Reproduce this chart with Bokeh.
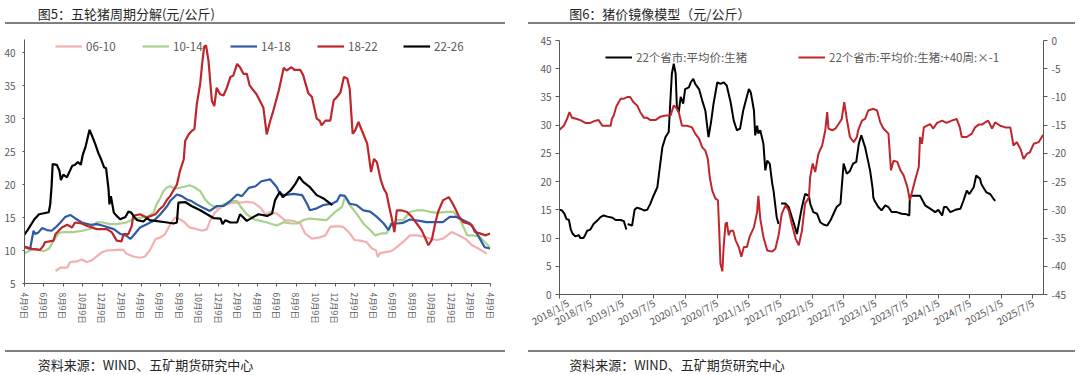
import datetime as dt
from bokeh.plotting import figure
from bokeh.models import Range1d, LinearAxis, FixedTicker, Legend, LegendItem, Div, Spacer
from bokeh.layouts import row, column
from bokeh.embed import file_html
from bokeh.resources import INLINE
from bokeh.core.properties import value

NAN = float("nan")
FONT = "Noto Sans CJK SC"
GRAY = "#595959"
TXT = "#262626"
RULE = "#7f7f7f"

# ---------------- Figure 5 data (months since first "4月9日") ----------------
month_ticks = list(range(0, 49, 2))
month_labels = ["4月9日", "6月9日", "8月9日", "10月9日", "12月9日", "2月9日"] * 4 + ["4月9日"]

s0610_x = [3.2, 3.7, 4.4, 4.7, 5.4, 5.9, 6.4, 6.9, 7.45, 8.0,
           8.5, 9.5, 10.2, 10.5, 11.2, 11.9, 12.4, 12.9, 13.5, 14.0,
           14.5, 15.0, 15.5, 16.0, 16.5, 17.0, 17.75, 18.3, 18.8, 19.1,
           19.6, 20.2, 20.8, 21.5, 22.2, 22.9, 23.6, 24.3, 24.8, 25.3,
           26.0, 26.8, 27.7, 28.4, 28.9, 29.6, 30.3, 31.0, 31.5, 32.2,
           32.8, 33.4, 34.0, 34.6, 35.2, 35.8, 36.2, 36.4, 36.6, 37.3,
           37.8, 38.35, 39.0, 39.7, 40.4, 41.1, 41.8, 42.5, 43.1, 44.0,
           44.7, 45.4, 46.1, 46.75, 47.3, 47.6]
s0610_y = [6.9, 7.4, 7.4, 8.25, 8.35, 8.65, 8.25, 8.5, 9.1, 9.75,
           10.0, 10.1, 10.1, 9.5, 9.1, 8.9, 9.1, 10.0, 11.75, 12.0,
           12.5, 14.0, 15.0, 14.75, 14.25, 13.5, 13.25, 13.0, 13.25, 14.5,
           15.75, 16.5, 17.0, 17.25, 17.25, 17.4, 17.25, 16.5, 15.5, 15.8,
           15.6, 14.6, 14.5, 14.1, 12.6, 11.8, 11.95, 12.3, 13.6, 13.7,
           13.6, 12.8, 11.6, 11.5, 11.3, 10.3, 10.05, 9.0, 9.6, 9.8,
           9.9, 10.5, 11.3, 12.3, 12.3, 12.1, 11.8, 11.6, 11.8, 12.8,
           12.3, 11.8, 10.8, 10.3, 9.8, 9.5]

s1014_x = [0, 0.58, 1.1, 1.96, 2.5, 3.0, 3.5, 4.0, 5.0, 6.0,
           6.8, 7.45, 8.1, 8.8, 9.5, 10.5, 11.2, 11.9, 12.6, 13.3,
           13.6, 14.0, 14.3, 14.7, 15.0, 15.35, 15.7, 16.2, 16.7, 17.0,
           17.5, 18.1, 18.6, 19.1, 19.8, 20.5, 21.2, 21.9, 22.2, 22.9,
           23.6, 24.3, 25.0, 25.3, 26.0, 26.7, 27.4, 28.1, 28.7, 29.4,
           30.45, 31.1, 32.0, 32.7, 33.0, 33.5, 34.2, 34.9, 35.6, 36.1,
           36.8, 37.3, 37.6, 38.35, 39.0, 39.7, 40.4, 41.1, 41.8, 42.5,
           43.5, 44.2, 44.9, 45.6, 46.2, 46.9, 47.4, 47.96]
s1014_y = [9.6, 10.0, 10.25, 9.9, 10.25, 11.5, 12.6, 12.8, 12.8, 13.0,
           13.3, 14.3, 14.25, 14.0, 14.0, 14.25, 14.75, 15.0, 15.1, 15.75,
           17.0, 18.0, 19.0, 19.6, 19.75, 19.5, 19.4, 19.6, 19.75, 19.9,
           19.6, 19.0, 17.75, 17.0, 16.5, 17.0, 17.5, 17.5, 16.75, 15.5,
           14.75, 14.5, 14.25, 14.1, 13.8, 14.3, 14.1, 14.1, 14.6, 14.85,
           14.7, 14.6, 15.85, 16.6, 18.1, 16.9, 15.6, 14.1, 13.1, 12.3,
           12.6, 12.6, 13.6, 14.6, 14.6, 15.85, 16.1, 16.1, 15.85, 15.7,
           15.85, 15.85, 14.6, 12.3, 12.3, 12.1, 11.3, 10.5]

s1418_x = [0, 0.58, 0.93, 1.1, 1.44, 1.8, 2.3, 2.8, 3.2, 3.7,
           4.2, 4.7, 5.2, 5.9, 6.8, 7.45, 8.1, 9.2, 9.9, 10.5,
           10.9, 11.2, 11.9, 12.6, 13.3, 14.0, 14.7, 15.0, 15.7, 16.2,
           16.7, 17.2, 17.75, 18.4, 19.1, 19.8, 20.5, 21.2, 21.9, 22.4,
           23.1, 23.8, 24.4, 25.3, 26.0, 26.3, 26.8, 27.7, 28.6, 29.1,
           29.4, 30.1, 30.8, 31.7, 32.2, 32.5, 33.0, 33.5, 34.2, 34.9,
           35.6, 36.3, 37.0, 37.5, 37.8, 38.35, 39.0, 39.7, 40.7, 41.4,
           43.1, 43.8, 44.5, 45.2, 45.9, 46.4, 46.9, 47.4, 47.96]
s1418_y = [10.5, 10.25, 13.0, 12.5, 12.75, 13.4, 13.1, 13.0, 13.5, 14.25,
           15.1, 15.4, 14.9, 14.25, 13.9, 14.0, 13.75, 13.25, 12.5, 12.25,
           11.75, 12.25, 13.5, 14.0, 14.5, 15.5, 16.75, 17.5, 18.5, 18.25,
           17.75, 17.5, 17.0, 16.5, 16.0, 16.75, 16.75, 17.5, 18.5, 18.25,
           19.5, 19.75, 20.5, 20.8, 19.6, 18.6, 18.4, 18.6, 18.4, 17.1,
           16.1, 16.4, 16.9, 17.1, 17.5, 18.4, 18.3, 17.1, 16.9, 16.1,
           15.9, 15.1, 14.1, 13.1, 14.1, 14.1, 14.2, 14.7, 14.5, 14.3,
           14.3, 15.1, 15.1, 14.6, 14.1, 13.1, 11.8, 10.5, 10.3]

s1822_x = [0, 0.76, 1.6, 1.96, 2.1, 2.98, 3.2, 3.85, 4.4, 4.9,
           5.2, 5.9, 6.4, 7.45, 8.5, 9.0, 9.5, 10.0, 10.2, 10.7,
           11.05, 11.2, 11.9, 12.6, 13.5, 13.9, 14.3, 14.7, 15.0, 15.3,
           15.7, 16.0, 16.4, 16.55, 16.9, 17.2, 17.5, 17.75, 18.1, 18.3,
           18.5, 18.7, 18.95, 19.3, 19.55, 19.8, 20.15, 20.5, 20.85, 21.2,
           21.5, 21.9, 22.2, 22.55, 22.9, 23.2, 23.9, 24.6, 24.95, 25.3,
           25.65, 26.2, 26.7, 27.0, 27.5, 27.8, 28.4, 28.7, 29.25, 29.6,
           30.1, 30.4, 30.6, 31.0, 31.5, 31.85, 32.2, 32.55, 32.9, 33.25,
           33.5, 33.8, 34.06, 34.4, 34.75, 35.3, 35.7, 36.0, 36.3, 36.7,
           37.0, 37.3, 37.5, 37.8, 38.1, 38.35, 38.8, 39.4, 39.9, 40.4,
           40.9, 41.3, 41.6, 41.95, 42.3, 42.6, 43.1, 43.7, 44.0, 44.35,
           44.7, 45.2, 45.7, 46.1, 46.4, 46.9, 47.5, 47.96]
s1822_y = [10.6, 10.25, 10.1, 10.75, 11.25, 11.5, 12.5, 13.5, 13.9, 13.5,
           14.25, 14.1, 13.75, 13.25, 13.25, 12.75, 11.5, 11.4, 12.5, 12.5,
           13.75, 15.25, 15.5, 15.0, 15.5, 16.25, 16.75, 17.75, 18.25, 19.0,
           20.0, 22.0, 23.8, 26.6, 27.6, 28.1, 28.4, 32.2, 35.3, 38.3,
           40.9, 41.1, 38.8, 32.7, 31.9, 34.7, 33.7, 33.5, 34.7, 36.3,
           36.5, 38.3, 37.8, 36.8, 36.8, 35.0, 33.7, 31.7, 27.6, 29.6,
           31.3, 34.3, 37.7, 37.3, 37.8, 37.4, 37.4, 36.6, 33.8, 33.3,
           30.0, 29.7, 29.0, 29.7, 29.7, 32.8, 33.3, 34.0, 36.3, 36.1,
           34.5, 27.7, 28.2, 29.5, 28.2, 26.2, 21.9, 23.9, 23.4, 20.7,
           19.4, 18.6, 17.1, 15.1, 12.8, 16.1, 16.1, 15.85, 15.1, 14.1,
           13.1, 11.8, 10.8, 11.6, 14.1, 15.85, 17.6, 18.1, 17.4, 16.4,
           15.3, 14.3, 14.1, 13.8, 12.8, 12.6, 12.3, 12.6]

s2226_x = [0, 0.5, 1.0, 1.5, 2.5, 2.65, 2.8, 2.9, 3.33, 3.6,
           3.75, 4.0, 4.37, 4.9, 5.2, 5.5, 5.8, 6.0, 6.3, 6.7,
           6.9, 7.3, 7.6, 7.9, 8.2, 8.4, 8.65, 8.75, 8.9, 9.2,
           9.5, 9.85, 10.4, 10.7, 11.0, 11.3, 11.6, 12.25, 12.6, 12.9,
           14.7, 15.35, 15.7, 15.85, 16.55, 17.2, 18.1, 18.8, 19.5, 20.2,
           20.4, 20.7, 21.2, 21.9, 22.2, 22.9, 23.6, 24.1, 25.0, 25.5,
           25.8, 26.3, 26.6, 27.4, 27.9, 28.3, 28.7, 29.4, 30.1, 30.8,
           31.7]
s2226_y = [12.4, 13.5, 14.7, 15.5, 15.8, 17.0, 20.0, 23.1, 23.0, 22.1,
           20.7, 21.5, 21.1, 22.8, 23.0, 23.4, 23.0, 24.5, 25.8, 28.3,
           27.6, 26.1, 24.8, 23.8, 22.6, 22.5, 19.4, 17.0, 18.25, 15.75,
           15.25, 14.75, 15.1, 15.9, 15.75, 15.1, 14.6, 14.4, 14.9, 14.6,
           14.25, 14.1, 14.25, 17.25, 17.35, 16.75, 16.1, 15.5, 14.9, 14.85,
           14.0, 14.6, 14.25, 14.25, 15.5, 14.5, 15.1, 15.5, 15.25, 15.6,
           17.6, 18.9, 18.1, 19.1, 20.1, 21.2, 20.4, 19.6, 18.4, 17.9,
           16.9]

# ---------------- Figure 6 data (decimal years) ----------------
date_labels = ["2018/1/5", "2018/7/5", "2019/1/5", "2019/7/5", "2020/1/5", "2020/7/5",
               "2021/1/5", "2021/7/5", "2022/1/5", "2022/7/5", "2023/1/5", "2023/7/5",
               "2024/1/5", "2024/7/5", "2025/1/5", "2025/7/5"]

price_t = [2018.01, 2018.05, 2018.09, 2018.12, 2018.16, 2018.19, 2018.22, 2018.26, 2018.32, 2018.34,
           2018.39, 2018.42, 2018.45, 2018.50, 2018.55, 2018.61, 2018.66, 2018.71, 2018.77, 2018.85,
           2018.90, 2018.98, 2019.03, 2019.07, 2019.08, 2019.09, 2019.16, 2019.20, 2019.24, 2019.29,
           2019.35, 2019.40, 2019.45, 2019.50, 2019.56, 2019.58, 2019.64, 2019.69, 2019.74, 2019.77,
           2019.79, 2019.82, 2019.85, 2019.87, 2019.90, 2019.93, 2019.97, 2020.00, 2020.06, 2020.09,
           2020.13, 2020.16, 2020.22, 2020.27, 2020.32, 2020.37, 2020.41, 2020.45, 2020.51, 2020.56,
           2020.61, 2020.66, 2020.72, 2020.77, 2020.82, 2020.87, 2020.92, 2020.95, 2021.01, 2021.04,
           2021.09, 2021.11, 2021.14, 2021.16, 2021.19, 2021.24, 2021.27, 2021.30, 2021.34, 2021.38,
           2021.40, 2021.45, 2021.48, 2021.50, 2021.52, 2021.59, 2021.64, 2021.69, 2021.75, 2021.77,
           2021.81, 2021.85, 2021.90, 2021.96, 2021.98, 2022.03, 2022.09, 2022.14, 2022.19, 2022.25,
           2022.30, 2022.35, 2022.40, 2022.46, 2022.48, 2022.51, 2022.56, 2022.61, 2022.66, 2022.71,
           2022.75, 2022.79, 2022.85, 2022.90, 2022.93, 2022.97, 2022.98, 2023.00, 2023.06, 2023.11,
           2023.17, 2023.22, 2023.27, 2023.35, 2023.43, 2023.51, 2023.55, 2023.56, 2023.72, 2023.80,
           2023.88, 2023.96, 2024.01, 2024.07, 2024.10, 2024.14, 2024.20, 2024.28, 2024.36, 2024.41,
           2024.46, 2024.50, 2024.57, 2024.61, 2024.67, 2024.69, 2024.72, 2024.77, 2024.83, 2024.88,
           2024.91]
price_v = [15.0, 14.9, 14.3, 13.4, 13.2, 11.5, 10.75, 10.3, 10.5, 10.0,
           10.0, 10.6, 11.3, 11.5, 12.5, 13.1, 13.7, 14.0, 13.8, 13.6,
           13.2, 13.2, 13.0, 11.5, NAN, 12.5, 12.2, 15.0, 15.4, 15.2,
           14.9, 15.0, 16.1, 17.5, 19.0, 20.8, 26.1, 27.9, 28.8, 35.0,
           39.1, 40.9, 39.1, 33.2, 32.3, 35.0, 33.8, 36.4, 36.7, 37.6,
           38.2, 37.3, 36.4, 34.4, 32.6, 27.9, 30.5, 33.8, 37.6, 37.3,
           37.6, 37.0, 34.1, 30.8, 29.1, 29.4, 32.6, 33.9, 36.4, 35.8,
           32.6, 28.2, 29.9, 28.5, 29.1, 26.7, 22.0, 23.7, 23.2, 19.6,
           18.4, 13.7, 12.5, NAN, 16.1, 16.1, 15.5, 13.7, 11.6, 10.7,
           13.1, 15.5, 17.8, 17.5, 16.1, 14.6, 14.3, 12.8, 12.4, 12.2,
           13.1, 14.3, 15.5, 16.1, 19.0, 23.2, 21.4, 21.9, 23.2, 23.5,
           26.7, 28.2, 26.1, 23.5, 21.9, 18.7, 17.2, 16.6, 15.5, 14.9,
           15.8, 15.5, 14.6, 14.6, 14.3, 14.2, 14.0, 17.5, 17.5, 15.8,
           15.2, 14.6, 15.0, 14.0, 15.5, 15.5, 14.6, 15.0, 15.2, 16.7,
           18.4, 17.8, 19.0, 21.1, 20.5, 19.6, 19.0, 18.1, 17.8, 17.0,
           16.6]

mirror_t = [2018.01, 2018.08, 2018.13, 2018.17, 2018.21, 2018.29, 2018.34, 2018.42, 2018.50, 2018.58,
            2018.63, 2018.69, 2018.77, 2018.82, 2018.84, 2018.87, 2018.91, 2018.98, 2019.03, 2019.09,
            2019.13, 2019.18, 2019.24, 2019.29, 2019.35, 2019.40, 2019.45, 2019.53, 2019.61, 2019.69,
            2019.77, 2019.82, 2019.86, 2019.90, 2019.95, 2020.03, 2020.11, 2020.16, 2020.22, 2020.27,
            2020.32, 2020.36, 2020.39, 2020.43, 2020.48, 2020.52, 2020.54, 2020.56, 2020.59, 2020.61,
            2020.64, 2020.66, 2020.69, 2020.72, 2020.76, 2020.80, 2020.85, 2020.89, 2020.93, 2020.98,
            2021.02, 2021.09, 2021.14, 2021.16, 2021.19, 2021.24, 2021.30, 2021.38, 2021.43, 2021.48,
            2021.53, 2021.59, 2021.64, 2021.69, 2021.75, 2021.80, 2021.85, 2021.90, 2021.96, 2021.98,
            2022.02, 2022.06, 2022.11, 2022.17, 2022.22, 2022.25, 2022.27, 2022.33, 2022.38, 2022.43,
            2022.48, 2022.52, 2022.56, 2022.61, 2022.67, 2022.72, 2022.74, 2022.80, 2022.85, 2022.90,
            2022.98, 2023.04, 2023.09, 2023.14, 2023.22, 2023.26, 2023.30, 2023.36, 2023.41, 2023.46,
            2023.52, 2023.56, 2023.64, 2023.70, 2023.72, 2023.75, 2023.78, 2023.83, 2023.88, 2023.93,
            2023.99, 2024.07, 2024.14, 2024.22, 2024.30, 2024.35, 2024.38, 2024.46, 2024.54, 2024.59,
            2024.65, 2024.70, 2024.75, 2024.80, 2024.86, 2024.91, 2024.99, 2025.07, 2025.15, 2025.20,
            2025.25, 2025.31, 2025.36, 2025.41, 2025.46, 2025.52, 2025.60, 2025.67]
mirror_v = [-15.8, -15.1, -13.9, -12.7, -13.7, -13.9, -14.1, -14.6, -14.6, -14.2,
            -14.1, -15.1, -15.1, -15.1, -13.9, -13.3, -11.7, -10.3, -10.3, -10.0,
            -10.0, -10.9, -11.5, -12.7, -13.7, -13.7, -14.1, -14.1, -13.5, -13.3,
            -13.3, -11.5, -11.9, -12.7, -15.1, -15.1, -15.4, -16.5, -17.4, -18.9,
            -19.5, -21.0, -24.2, -26.6, -28.0, -28.3, -33.7, -39.6, -40.9, -36.6,
            -32.5, -32.2, -34.5, -33.7, -33.7, -35.4, -36.6, -38.3, -36.6, -36.6,
            -34.8, -33.1, -30.4, -27.5, -31.6, -34.8, -37.2, -37.4, -36.9, -34.5,
            -30.7, -29.2, -30.1, -32.5, -35.1, -36.3, -33.7, -28.9, -27.8, -24.2,
            -21.8, -23.3, -20.1, -18.6, -15.9, -12.7, -15.6, -15.9, -15.6, -14.8,
            -13.9, -10.9, -13.9, -17.1, -18.0, -17.1, -15.9, -14.2, -13.9, -12.4,
            -12.1, -12.4, -14.5, -15.6, -16.5, -23.0, -21.3, -21.5, -23.0, -23.9,
            -26.0, -28.3, -24.8, -22.4, -17.1, -18.3, -15.4, -15.1, -14.8, -15.6,
            -14.6, -14.2, -14.6, -14.2, -13.9, -15.4, -17.1, -17.1, -16.5, -15.4,
            -14.9, -14.9, -14.5, -14.2, -15.6, -14.5, -15.1, -15.4, -15.4, -18.6,
            -18.0, -19.2, -21.0, -20.1, -19.8, -18.3, -18.0, -16.7]


def dec_year(s):
    y, m, d = map(int, s.split("/"))
    start = dt.date(y, 1, 1)
    n = (dt.date(y + 1, 1, 1) - start).days
    return y + (dt.date(y, m, d) - start).days / n


def text_fig(w, h, title, tx, ty, size):
    f = figure(width=w, height=h, x_range=Range1d(0, w), y_range=Range1d(0, h),
               output_backend="svg", toolbar_location=None, min_border=0,
               min_border_left=0, min_border_right=0, min_border_top=0, min_border_bottom=0,
               x_axis_type=None, y_axis_type=None, title=None)
    f.outline_line_color = None
    f.border_fill_color = None
    f.background_fill_color = None
    f.text(x=[tx], y=[h - ty], text=[title], text_font=value(FONT), text_font_size=f"{size}px",
           text_baseline="middle", text_align="left", text_color=TXT)
    return f


def rule(x0, length, total_w):
    bar = Div(text="", width=length, height=2, margin=0,
              styles={"background-color": RULE})
    parts = []
    if x0 > 0:
        parts.append(Spacer(width=x0, height=2, margin=0))
    parts.append(bar)
    return row(parts, spacing=0, margin=0)


def style_axis(ax, size, tick_out):
    ax.axis_line_color = GRAY
    ax.major_tick_line_color = GRAY
    ax.minor_tick_line_color = None
    ax.major_tick_in = 0
    ax.major_tick_out = tick_out
    ax.major_label_text_color = GRAY
    ax.major_label_text_font = FONT
    ax.major_label_text_font_size = f"{size}px"


def add_leg(p, label, r, x, y):
    leg = Legend(items=[LegendItem(label=value(label), renderers=[r])], location=(x, y),
                 orientation="horizontal", padding=0, margin=0, spacing=0,
                 border_line_color=None, background_fill_alpha=0,
                 glyph_width=27, glyph_height=18, label_height=18, label_standoff=4,
                 label_text_font=FONT, label_text_font_size="11.5px", label_text_color=GRAY)
    p.add_layout(leg)


W1, W2 = 528, 552
H_C = 315

# ---------------- left panel ----------------
p1 = figure(width=W1, height=H_C, x_range=Range1d(0, 48), y_range=Range1d(5, 42),
            output_backend="svg", toolbar_location=None, title=None,
            min_border_left=24, min_border_right=38, min_border_top=9, min_border_bottom=62)
p1.grid.visible = False
p1.outline_line_color = None
p1.xaxis.ticker = FixedTicker(ticks=month_ticks)
p1.xaxis.major_label_overrides = {t: l for t, l in zip(month_ticks, month_labels)}
p1.xaxis.major_label_orientation = "vertical"
p1.xaxis.major_label_standoff = 6
p1.yaxis.ticker = FixedTicker(ticks=list(range(5, 41, 5)))
p1.yaxis.major_label_standoff = 7
style_axis(p1.xaxis[0], 8.5, 3)
style_axis(p1.yaxis[0], 10, 2)

series1 = [("06-10", s0610_x, s0610_y, "#F4B0B0"),
           ("10-14", s1014_x, s1014_y, "#A9D18E"),
           ("14-18", s1418_x, s1418_y, "#2E5BA6"),
           ("18-22", s1822_x, s1822_y, "#BF262C"),
           ("22-26", s2226_x, s2226_y, "#000000")]
leg_x1 = [31, 118, 206, 293, 379]
for (name, xs, ys, c), lx in zip(series1, leg_x1):
    r = p1.line(xs, ys, line_color=c, line_width=2.2)
    add_leg(p1, name, r, lx, 227.6)

# ---------------- right panel ----------------
tick_dates = [dec_year(s) for s in date_labels]
p2 = figure(width=W2, height=H_C, x_range=Range1d(tick_dates[0], 2025.675), y_range=Range1d(0, 45),
            output_backend="svg", toolbar_location=None, title=None,
            min_border_left=31, min_border_right=37, min_border_top=10, min_border_bottom=51)
p2.grid.visible = False
p2.outline_line_color = None
p2.extra_y_ranges = {"r": Range1d(-45, 0)}
p2.xaxis.ticker = FixedTicker(ticks=tick_dates)
p2.xaxis.major_label_overrides = {t: l for t, l in zip(tick_dates, date_labels)}
p2.xaxis.major_label_orientation = 0.52
p2.xaxis.major_label_standoff = 3
p2.yaxis.ticker = FixedTicker(ticks=list(range(0, 46, 5)))
p2.yaxis.major_label_standoff = 4
style_axis(p2.xaxis[0], 10, 4)
style_axis(p2.yaxis[0], 10, 4)
right_ticks = list(range(-45, 1, 5))
ax_r = LinearAxis(y_range_name="r", ticker=FixedTicker(ticks=right_ticks),
                  major_label_overrides={t: str(t) for t in right_ticks})
ax_r.major_label_standoff = 4
style_axis(ax_r, 10, 4)
p2.add_layout(ax_r, "right")

r_black = p2.line(price_t, price_v, line_color="#000000", line_width=2.0)
r_red = p2.line(mirror_t, mirror_v, line_color="#BF262C", line_width=2.0, y_range_name="r")
add_leg(p2, "22个省市:平均价:生猪", r_black, 46, 227.7)
add_leg(p2, "22个省市:平均价:生猪:+40周:×-1", r_red, 239, 227.7)

# ---------------- titles, rules & sources ----------------
t1 = text_fig(W1, 22, "图5：五轮猪周期分解(元/公斤)", 15, 13, 13)
t2 = text_fig(W2, 22, "图6：猪价镜像模型（元/公斤）", 11, 13, 13)
s1 = text_fig(W1, 23, "资料来源：WIND、五矿期货研究中心", 15, 11.5, 13)
s2 = text_fig(W2, 23, "资料来源：WIND、五矿期货研究中心", 11, 11.5, 13)

left = column([t1, rule(5, 500, W1), Spacer(width=W1, height=6, margin=0), p1,
               Spacer(width=W1, height=5, margin=0), rule(5, 500, W1), s1], spacing=0, margin=0)
right = column([t2, rule(0, 547, W2), Spacer(width=W2, height=6, margin=0), p2,
                Spacer(width=W2, height=5, margin=0), rule(0, 547, W2), s2], spacing=0, margin=0)
layout = row([left, right], spacing=0, margin=0)
open("out.html", "w").write(file_html(layout, INLINE))
